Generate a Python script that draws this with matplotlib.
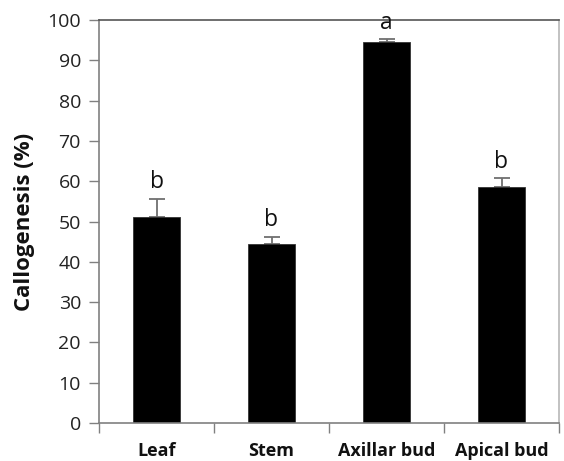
import matplotlib
matplotlib.use("Agg")
import matplotlib.pyplot as plt
import numpy as np

plt.rcParams['font.family'] = ['Open Sans', 'DejaVu Sans']

categories = ["Leaf", "Stem", "Axillar bud", "Apical bud"]
values = [51.0, 44.3, 94.6, 58.6]
errors = [4.6, 1.8, 0.6, 2.1]
letters = ["b", "b", "a", "b"]
yticks = [0, 10, 20, 30, 40, 50, 60, 70, 80, 90, 100]

fig = plt.figure(figsize=(5.64, 4.61), dpi=100)
ax = fig.add_axes([99/564, 1 - 423/461, 460/564, 403/461])

x = np.arange(len(categories))
ax.bar(x, values, width=0.41, color="black", edgecolor="#333333", linewidth=0.6, zorder=2)
ax.errorbar(x, values, yerr=[np.zeros(len(errors)), errors], fmt="none",
            ecolor="#707070", elinewidth=1.3, capsize=5.5, capthick=1.3, zorder=1)

for xi, v, e, l in zip(x, values, errors, letters):
    ax.text(xi, v + e + 1.2, l, ha="center", va="bottom", fontsize=16.5, color="#111111")

ax.set_xlim(-0.5, len(categories) - 0.5)
ax.set_ylim(0, 100)
ax.set_yticks(yticks)
ax.set_yticklabels([str(t) for t in yticks], fontsize=14, color="#222222")
ax.tick_params(axis="y", direction="out", length=7, width=1, color="#808080", pad=6)

# category boundary ticks on x-axis
ax.set_xticks(np.arange(-0.5, len(categories) + 0.5, 1.0))
ax.set_xticklabels([])
ax.set_xticks(x, minor=True)
ax.set_xticklabels(categories, minor=True, fontsize=13, fontweight="bold", color="#111111")
ax.tick_params(axis="x", which="major", direction="out", length=7, width=1, color="#808080")
ax.tick_params(axis="x", which="minor", length=0, pad=14)

ax.set_ylabel("Callogenesis (%)", fontsize=16, fontweight="bold", color="#111111", labelpad=9)

ax.spines["left"].set_color("#808080")
ax.spines["bottom"].set_color("#808080")
ax.spines["top"].set_color("#555555")
ax.spines["right"].set_color("#b8b8b8")
for s in ax.spines.values():
    s.set_linewidth(1.2)

fig.savefig("out.png", dpi=100)
